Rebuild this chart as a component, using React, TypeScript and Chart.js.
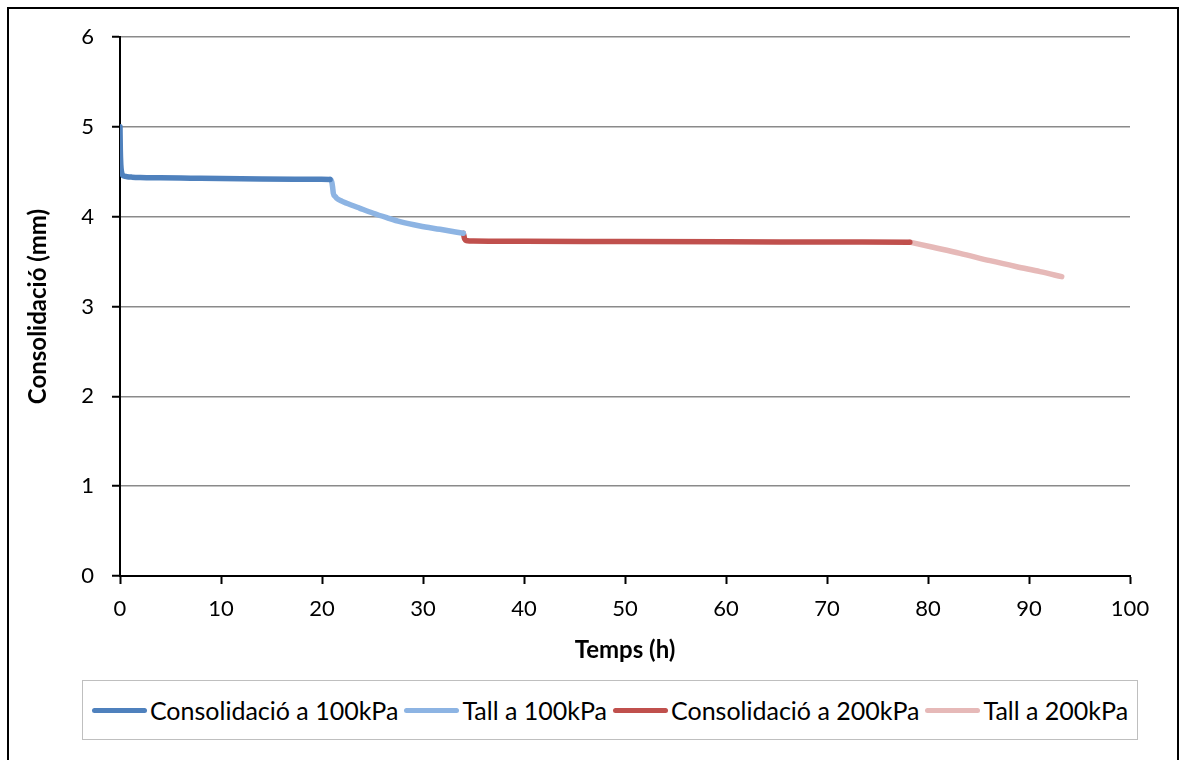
import React, { useEffect, useRef } from "react";
import { Chart, registerables } from "chart.js";

Chart.register(...registerables);

// Series data (hours, mm)
const cons100X = [0, 0.03, 0.08, 0.15, 0.25, 0.4, 0.7, 1.2, 2, 4, 7, 10, 14, 18, 20.8];
const cons100Y = [5.0, 4.75, 4.58, 4.5, 4.465, 4.452, 4.445, 4.44, 4.436, 4.432, 4.428, 4.424, 4.42, 4.417, 4.415];

const tall100X = [20.8, 20.96, 21.05, 21.12, 21.3, 21.45, 22.0, 22.45, 23.76, 25.08, 26.41, 27.72, 29.7, 31.68, 33.99];
const tall100Y = [4.415, 4.39, 4.33, 4.26, 4.225, 4.205, 4.17, 4.149, 4.093, 4.038, 3.989, 3.944, 3.896, 3.859, 3.815];

const cons200X = [33.99, 34.05, 34.1, 34.2, 34.4, 35, 40, 50, 60, 70, 78.2];
const cons200Y = [3.815, 3.79, 3.76, 3.74, 3.732, 3.729, 3.726, 3.723, 3.72, 3.718, 3.716];

const tall200X = [78.2, 80.5, 83.17, 86.14, 88.78, 91.09, 93.24];
const tall200Y = [3.716, 3.659, 3.592, 3.51, 3.443, 3.388, 3.332];

const seriesLabels = [
  "Consolidació a 100kPa",
  "Tall a 100kPa",
  "Consolidació a 200kPa",
  "Tall a 200kPa",
];
const seriesColors = ["#4F81BD", "#8DB4E3", "#C0504D", "#E6B9B8"];

const xTitle = "Temps (h)";
const yTitle = "Consolidació (mm)";
const xMin = 0, xMax = 100, xStep = 10;
const yMin = 0, yMax = 6, yStep = 1;

const FONT = "Lato, 'DejaVu Sans', sans-serif";

function zip(xs: number[], ys: number[]) {
  return xs.map((x, i) => ({ x, y: ys[i] }));
}

export default function App() {
  const ref = useRef<HTMLCanvasElement | null>(null);

  useEffect(() => {
    if (!ref.current) return;
    const sets = [
      zip(cons100X, cons100Y),
      zip(tall100X, tall100Y),
      zip(cons200X, cons200Y),
      zip(tall200X, tall200Y),
    ];
    const chart = new Chart(ref.current, {
      type: "line",
      data: {
        datasets: sets.map((d, i) => ({
          label: seriesLabels[i],
          data: d,
          borderColor: seriesColors[i],
          backgroundColor: seriesColors[i],
          borderWidth: 5.5,
          pointRadius: 0,
          pointHoverRadius: 0,
          fill: false,
          cubicInterpolationMode: "monotone" as const,
          borderCapStyle: "round" as const,
          borderJoinStyle: "round" as const,
        })),
      },
      options: {
        animation: false,
        responsive: false,
        maintainAspectRatio: false,
        events: [],
        layout: { padding: { top: 37, right: 49, left: 0, bottom: 0 } },
        plugins: {
          legend: { display: false },
          tooltip: { enabled: false },
        },
        scales: {
          x: {
            type: "linear",
            min: xMin,
            max: xMax,
            afterFit: (s: any) => {
              s.height = 104;
            },
            ticks: {
              stepSize: xStep,
              color: "#000",
              padding: 12,
              font: { family: FONT, size: 22 },
              maxRotation: 0,
            },
            grid: {
              drawOnChartArea: false,
              drawTicks: true,
              tickLength: 8,
              tickWidth: 2,
              tickColor: "#000",
            },
            border: { color: "#000", width: 2 },
            title: {
              display: true,
              text: xTitle,
              color: "#000",
              font: { family: FONT, size: 24, weight: "bold" },
              padding: { top: 0, bottom: 15.6 },
            },
          },
          y: {
            type: "linear",
            min: yMin,
            max: yMax,
            afterFit: (s: any) => {
              s.width = 120;
            },
            ticks: {
              stepSize: yStep,
              color: "#000",
              padding: 18,
              font: { family: FONT, size: 22 },
            },
            grid: {
              color: (c: any) => (c.tick && c.tick.value === 0 ? "rgba(0,0,0,0)" : "#8A8A8A"),
              lineWidth: 1.5,
              drawTicks: true,
              tickLength: 8,
              tickWidth: 2,
              tickColor: "#000",
            },
            border: { color: "#000", width: 2 },
            title: {
              display: true,
              text: yTitle,
              color: "#000",
              font: { family: FONT, size: 24, weight: "bold" },
              padding: { top: 23.6, bottom: 0 },
            },
          },
        },
      },
    });
    return () => chart.destroy();
  }, []);

  return (
    <div style={{ position: "fixed", left: 0, top: 0, width: 1179, height: 760, background: "#fff", overflow: "hidden" }}>
      <div
        style={{
          position: "absolute",
          left: 7,
          top: 7,
          width: 1172,
          height: 800,
          border: "2px solid #000",
          boxSizing: "border-box",
        }}
      />
      <canvas ref={ref} width={1179} height={680} style={{ position: "absolute", left: 0, top: 0, width: 1179, height: 680 }} />
      <div
        style={{
          position: "absolute",
          left: 82,
          top: 680,
          width: 1056,
          height: 60,
          border: "1.5px solid #BFBFBF",
          boxSizing: "border-box",
          display: "flex",
          alignItems: "center",
          justifyContent: "center",
          fontFamily: FONT,
          fontSize: 25,
          color: "#000",
          gap: 6,
        }}
      >
        {seriesLabels.map((l, i) => (
          <div key={l} style={{ display: "flex", alignItems: "center" }}>
            <span
              style={{
                display: "inline-block",
                width: 55,
                height: 5,
                borderRadius: 2.5,
                background: seriesColors[i],
                marginRight: 3,
              }}
            />
            <span style={{ whiteSpace: "nowrap" }}>{l}</span>
          </div>
        ))}
      </div>
    </div>
  );
}
